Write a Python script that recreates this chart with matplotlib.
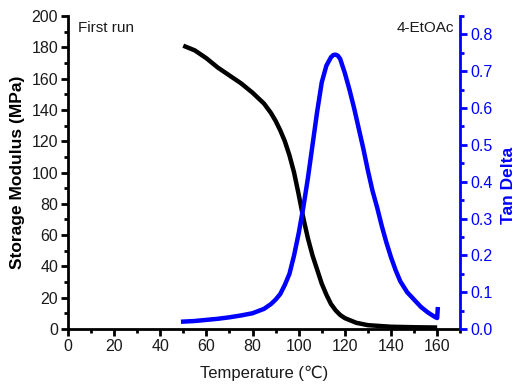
import numpy as np
import matplotlib
matplotlib.use('Agg')
import matplotlib.pyplot as plt
from matplotlib.ticker import MultipleLocator

plt.rcParams['font.family'] = ['Liberation Sans', 'DejaVu Sans']

# storage modulus (MPa)
temp_e = [50, 55, 60, 65, 70, 75, 80, 85, 88, 90, 92, 94, 96, 98, 100, 102, 104,
          106, 108, 110, 112, 114, 116, 118, 120, 125, 130, 140, 150, 160]
modulus = [181, 178, 173, 167, 162, 157, 151, 144, 138, 133, 127, 120, 111, 100, 86,
           71, 58, 47, 38, 29, 22, 16, 12, 9, 7, 4, 2.5, 1.5, 1.2, 1.0]

# tan delta
temp_t = [49, 55, 60, 65, 70, 75, 80, 85, 88, 90, 92, 94, 96, 98, 100, 102, 104,
          106, 108, 110, 112, 114, 115, 116, 117, 118, 120, 122, 124, 126, 128, 130,
          132, 134, 136, 138, 140, 142, 144, 147, 150, 153, 156, 159, 160, 160.3]
tan_delta = [0.020, 0.022, 0.025, 0.028, 0.032, 0.037, 0.043, 0.055, 0.068, 0.080,
             0.095, 0.12, 0.15, 0.20, 0.26, 0.33, 0.41, 0.50, 0.59, 0.67, 0.715, 0.738,
             0.744, 0.745, 0.742, 0.733, 0.695, 0.65, 0.60, 0.545, 0.49, 0.43, 0.375,
             0.33, 0.28, 0.235, 0.195, 0.16, 0.13, 0.10, 0.08, 0.06, 0.045, 0.033,
             0.03, 0.06]

fig = plt.figure(figsize=(5.26, 3.89), dpi=100)
ax = fig.add_axes([0.129, 0.154, 0.746, 0.805])
ax2 = ax.twinx()

ax.plot(temp_e, modulus, color='black', lw=3.2, solid_capstyle='butt',
        solid_joinstyle='round')
ax2.plot(temp_t, tan_delta, color='blue', lw=3.2, solid_capstyle='butt',
         solid_joinstyle='round')

ax.set_xlim(0, 170)
ax.set_ylim(0, 200)
ax2.set_ylim(0, 0.85)

ax.xaxis.set_major_locator(MultipleLocator(20))
ax.xaxis.set_minor_locator(MultipleLocator(10))
ax.yaxis.set_major_locator(MultipleLocator(20))
ax.yaxis.set_minor_locator(MultipleLocator(10))
ax2.yaxis.set_minor_locator(MultipleLocator(0.05))
ax2.set_yticks(np.arange(0, 0.81, 0.1))

ax.spines['top'].set_visible(False)
ax2.spines['top'].set_visible(False)
ax2.spines['left'].set_visible(False)
ax2.spines['bottom'].set_visible(False)
ax.spines['right'].set_visible(False)
for sp in ['left', 'bottom']:
    ax.spines[sp].set_linewidth(2)
ax2.spines['right'].set_linewidth(2)
ax2.spines['right'].set_color('blue')

ax.tick_params(axis='both', which='major', direction='out', length=5, width=2,
               labelsize=11.5, pad=2, labelcolor='#1a1a1a')
ax.tick_params(axis='both', which='minor', direction='out', length=3, width=2)
ax2.tick_params(axis='y', which='major', direction='out', length=5, width=2,
                colors='blue', labelsize=11.5, pad=2)
ax2.tick_params(axis='y', which='minor', direction='out', length=3, width=2,
                colors='blue')
ax2.set_yticklabels([f'{v:.1f}' for v in np.arange(0, 0.81, 0.1)])

ax.set_xlabel('Temperature (\u2103)', fontsize=12, color='#1a1a1a')
ax.xaxis.set_label_coords(0.5, -0.118)
ax.set_ylabel('Storage Modulus (MPa)', fontsize=12.5, fontweight='bold')
ax.yaxis.set_label_coords(-0.11, 0.5)
ax2.set_ylabel('Tan Delta', fontsize=12.5, fontweight='bold', color='blue')
ax2.yaxis.set_label_coords(1.105, 0.46)

ax.text(0.025, 0.985, 'First run', transform=ax.transAxes, fontsize=11,
        ha='left', va='top', color='#1a1a1a')
ax.text(0.985, 0.985, '4-EtOAc', transform=ax.transAxes, fontsize=11,
        ha='right', va='top', color='#1a1a1a')

fig.savefig('out.png', dpi=100)
